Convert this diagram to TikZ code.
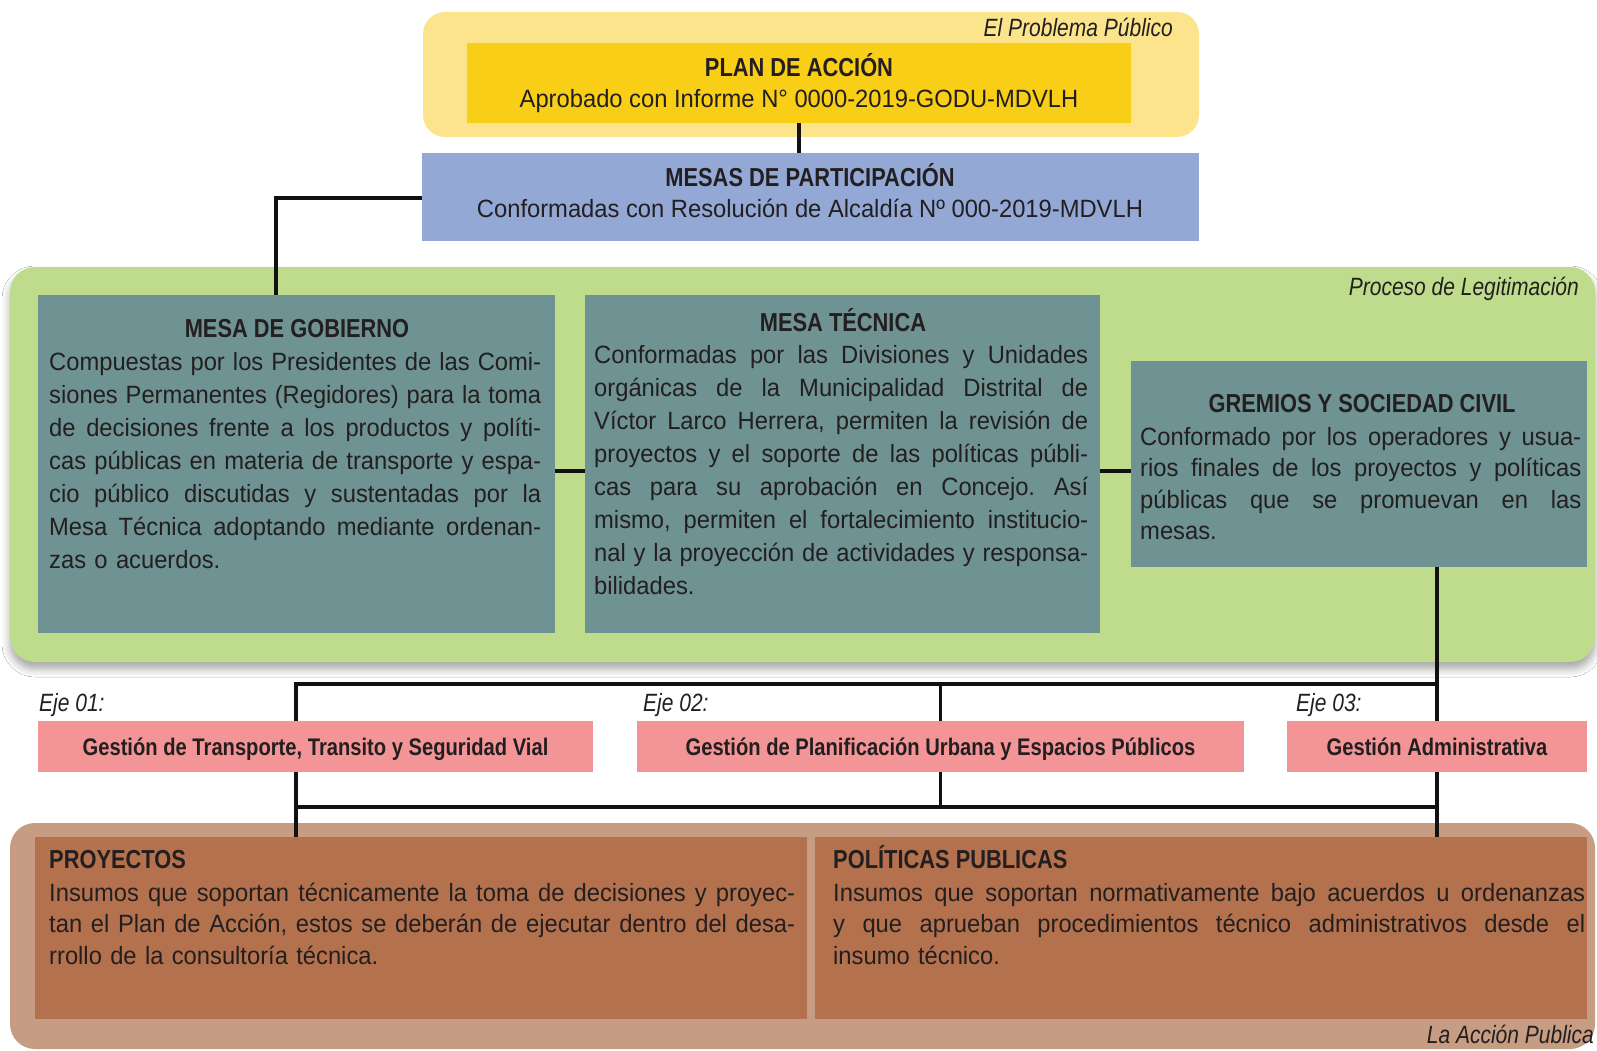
\documentclass[tikz,border=0pt]{standalone}
\usepackage{fontspec}
\setmainfont{Liberation Sans}[FakeStretch=0.95]
\newfontfamily\cnd{Liberation Sans}[FakeStretch=0.84]
\usetikzlibrary{shadows.blur}
\definecolor{ybg}{HTML}{FCE48C}
\definecolor{plancol}{HTML}{F8CE17}
\definecolor{bluecol}{HTML}{94A8D6}
\definecolor{gbg}{HTML}{BEDC8B}
\definecolor{teal}{HTML}{6F9292}
\definecolor{pinkcol}{HTML}{F39496}
\definecolor{bbg}{HTML}{C69C82}
\definecolor{browncol}{HTML}{B3714E}
\definecolor{txt}{HTML}{231F20}
\definecolor{lin}{HTML}{111111}
\newcommand\jl[1]{\makebox[\hsize][s]{\spaceskip=0pt\relax\xspaceskip=0pt\relax\frenchspacing #1}\\}
\begin{document}
\begin{tikzpicture}[x=1pt,y=-1pt,
  blk/.style={rectangle, inner sep=0pt, draw=none, fill=#1},
  ttl/.style={font=\fontsize{26}{30}\cnd\bfseries, text=txt, inner sep=0pt},
  ptxt/.style={font=\fontsize{24}{28}\cnd\bfseries, text=txt, inner sep=0pt},
  lbl/.style={font=\fontsize{25}{28}\cnd\itshape, text=txt, inner sep=0pt},
  bdy/.style={font=\fontsize{25}{33}\selectfont, text=txt, inner sep=0pt, align=left},
  bdyb/.style={font=\fontsize{25}{31.6}\selectfont, text=txt, inner sep=0pt, align=left},
  conn/.style={line width=3.3pt, draw=lin, line cap=rect},
  hconn/.style={line width=4.2pt, draw=lin, line cap=rect}]
\useasboundingbox (0,0) rectangle (1597,1051);
\fill[white] (0,0) rectangle (1597,1051);
% backgrounds
\fill[ybg, rounded corners=22pt] (423,12) rectangle (1199,137);
\fill[gbg, rounded corners=25pt, blur shadow={shadow xshift=0pt, shadow yshift=-7pt, shadow blur radius=8pt, shadow opacity=35}] (10,267) rectangle (1595,662);
\fill[bbg, rounded corners=25pt] (10,823) rectangle (1595,1049);
% boxes
\node[blk=plancol, minimum width=664pt, minimum height=80pt] (plan) at (799,83) {};
\node[blk=bluecol, minimum width=777pt, minimum height=88pt] (mesas) at (810.5,197) {};
\node[blk=teal, minimum width=517pt, minimum height=338pt] (MG) at (296.5,464) {};
\node[blk=teal, minimum width=515pt, minimum height=338pt] (MT) at (842.5,464) {};
\node[blk=teal, minimum width=456pt, minimum height=206pt] (GR) at (1359,464) {};
\node[blk=pinkcol, minimum width=555pt, minimum height=51pt] (P1) at (315.5,746.5) {};
\node[blk=pinkcol, minimum width=607pt, minimum height=51pt] (P2) at (940.5,746.5) {};
\node[blk=pinkcol, minimum width=300pt, minimum height=51pt] (P3) at (1437,746.5) {};
\node[blk=browncol, minimum width=772pt, minimum height=182pt] (B1) at (421,928) {};
\node[blk=browncol, minimum width=772pt, minimum height=182pt] (B2) at (1201,928) {};
% connectors
\coordinate (mgtop) at (276,295);
\coordinate (hA) at (296,684);
\coordinate (hB) at (296,807);
\draw[conn] (plan.south) -- (plan.south |- mesas.north);
\draw[conn] ([yshift=-1pt]mesas.west) -| (mgtop);
\draw[conn] ([yshift=-7pt]MG.east) -- ([yshift=-7pt]MT.west);
\draw[conn] ([yshift=-7pt]MT.east) -- ([yshift=-7pt]GR.west);
\draw[conn] (GR.south -| P3.north) -- (P3.north);
\draw[hconn] (hA) -- (hA -| P3.north);
\draw[conn] (hA) -- (hA |- P1.north);
\draw[conn] (hA -| P2.north) -- (P2.north);
\draw[conn] (hA |- P1.south) -- (hB);
\draw[conn] (P2.south) -- (P2.south |- hB);
\draw[conn] (P3.south) -- (P3.south |- hB);
\draw[hconn] (hB) -- (hB -| P3.south);
\draw[conn] (hB) -- (hB |- B1.north);
\draw[conn] (hB -| P3.south) -- (P3.south |- B2.north);
% redraw boxes over connector ends
\fill[plancol] (plan.south west) rectangle (plan.north east);
\fill[bluecol] (mesas.south west) rectangle (mesas.north east);
\fill[teal] (MG.south west) rectangle (MG.north east);
\fill[teal] (MT.south west) rectangle (MT.north east);
\fill[teal] (GR.south west) rectangle (GR.north east);
\fill[pinkcol] (P1.south west) rectangle (P1.north east);
\fill[pinkcol] (P2.south west) rectangle (P2.north east);
\fill[pinkcol] (P3.south west) rectangle (P3.north east);
\fill[browncol] (B1.south west) rectangle (B1.north east);
\fill[browncol] (B2.south west) rectangle (B2.north east);
% labels
\node[lbl, anchor=base east] (lab1) at (1173,37) {El Problema Público};
\node[lbl, anchor=base east] (lab2) at (1579,295) {Proceso de Legitimación};
\node[lbl, anchor=base east] (lab3) at (1594,1043) {La Acción Publica};
\node[lbl, anchor=base west] (eje1) at (39,711) {Eje 01:};
\node[lbl, anchor=base west] (eje2) at (643,711) {Eje 02:};
\node[lbl, anchor=base west] (eje3) at (1296,711) {Eje 03:};
% top texts
\node[ttl, anchor=base] (tplan) at (799,77) {PLAN DE ACCIÓN};
\node[bdy, anchor=base] (splan) at (799,108) {Aprobado con Informe N° 0000-2019-GODU-MDVLH};
\node[ttl, anchor=base] (tmesas) at (810,186) {MESAS DE PARTICIPACIÓN};
\node[bdy, anchor=base] (smesas) at (810,218) {Conformadas con Resolución de Alcaldía Nº 000-2019-MDVLH};
% mesa de gobierno
\node[ttl, anchor=base] (tMG) at (297,337) {MESA DE GOBIERNO};
\node[bdy, anchor=base west, text width=492pt] (sMG) at (49,370) {%
\jl{Compuestas por los Presidentes de las Comi-}
\jl{siones Permanentes (Regidores) para la toma}
\jl{de decisiones frente a los productos y políti-}
\jl{cas públicas en materia de transporte y espa-}
\jl{cio público discutidas y sustentadas por la}
\jl{Mesa Técnica adoptando mediante ordenan-}
zas o acuerdos.};
% mesa tecnica
\node[ttl, anchor=base] (tMT) at (843,331) {MESA TÉCNICA};
\node[bdy, anchor=base west, text width=494pt] (sMT) at (594,363) {%
\jl{Conformadas por las Divisiones y Unidades}
\jl{orgánicas de la Municipalidad Distrital de}
\jl{Víctor Larco Herrera, permiten la revisión de}
\jl{proyectos y el soporte de las políticas públi-}
\jl{cas para su aprobación en Concejo. Así}
\jl{mismo, permiten el fortalecimiento institucio-}
\jl{nal y la proyección de actividades y responsa-}
bilidades.};
% gremios
\node[ttl, anchor=base] (tGR) at (1362,412) {GREMIOS Y SOCIEDAD CIVIL};
\node[bdyb, anchor=base west, text width=441pt] (sGR) at (1140,445) {%
\jl{Conformado por los operadores y usua-}
\jl{rios finales de los proyectos y políticas}
\jl{públicas que se promuevan en las}
mesas.};
% ejes
\node[ptxt, anchor=base] (tP1) at (315.5,755) {Gestión de Transporte, Transito y Seguridad Vial};
\node[ptxt, anchor=base] (tP2) at (940.5,755) {Gestión de Planificación Urbana y Espacios Públicos};
\node[ptxt, anchor=base] (tP3) at (1437,755) {Gestión Administrativa};
% brown boxes
\node[ttl, anchor=base west] (tB1) at (49,868) {PROYECTOS};
\node[bdyb, anchor=base west, text width=746pt] (sB1) at (49,901) {%
\jl{Insumos que soportan técnicamente la toma de decisiones y proyec-}
\jl{tan el Plan de Acción, estos se deberán de ejecutar dentro del desa-}
rrollo de la consultoría técnica.};
\node[ttl, anchor=base west] (tB2) at (833,868) {POLÍTICAS PUBLICAS};
\node[bdyb, anchor=base west, text width=752pt] (sB2) at (833,901) {%
\jl{Insumos que soportan normativamente bajo acuerdos u ordenanzas}
\jl{y que aprueban procedimientos técnico administrativos desde el}
insumo técnico.};
\end{tikzpicture}
\end{document}
